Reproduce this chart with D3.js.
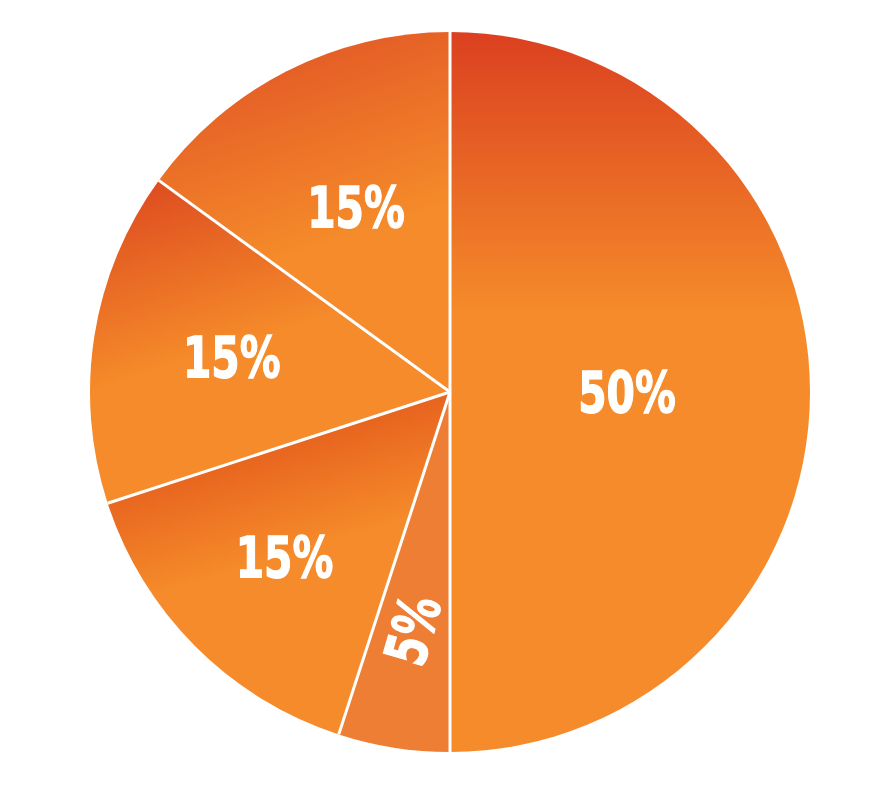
<!DOCTYPE html>
<html>
<head>
<meta charset="utf-8">
<script src="https://cdn.jsdelivr.net/npm/d3@7"></script>
<style>
  html, body { margin: 0; padding: 0; background: #fff; }
  .pie-label { font-family: "Liberation Sans Narrow", "DejaVu Sans Condensed", sans-serif; font-weight: bold; }
</style>
</head>
<body>
<svg id="pieChartContainer"></svg>
<script>
// Slice labels and values, clockwise from 12 o'clock
var sliceLabels = ["50%", "5%", "15%", "15%", "15%"];
var sliceValues = [50, 5, 15, 15, 15];

// Size & radius of the pie
var pieWidth = 891,
  pieHeight = 792,
  pieRadius = 360,
  centerX = 450,
  centerY = 392;

// Fill style per slice: gradient stops and gradient line (relative to centre)
var sliceFills = [
  { from: "#db4020", to: "#f58b2a", x1: 0, y1: -360, x2: 0, y2: -80 },
  { from: "#ed7e33", to: "#ed7e33", x1: 0, y1: 0, x2: 0, y2: 1 },
  { from: "#e8651f", to: "#f58b2a", x1: -200, y1: 65, x2: -170, y2: 165 },
  { from: "#de4d20", to: "#f58b2a", x1: -290, y1: -212, x2: -235, y2: -40 },
  { from: "#e45c26", to: "#f58b2a", x1: -100, y1: -360, x2: -40, y2: -175 }
];

// Label distance from centre, and rotation of each label
var labelRadius = [177, 241, 234, 221, 207];
var labelRotate = [0, -74, 0, 0, 0];

var pie = d3
  .pie()
  .value(function (d) {
    return d;
  })
  .sort(null);

var arc = d3.arc().innerRadius(0).outerRadius(pieRadius);

var svg = d3
  .select("#pieChartContainer")
  .attr("width", pieWidth)
  .attr("height", pieHeight);

// Gradients
var defs = svg.append("defs");
sliceFills.forEach(function (f, i) {
  var g = defs
    .append("linearGradient")
    .attr("id", "grad" + i)
    .attr("gradientUnits", "userSpaceOnUse")
    .attr("x1", f.x1)
    .attr("y1", f.y1)
    .attr("x2", f.x2)
    .attr("y2", f.y2);
  g.append("stop").attr("offset", "0%").attr("stop-color", f.from);
  g.append("stop").attr("offset", "100%").attr("stop-color", f.to);
});

var chart = svg
  .append("g")
  .attr("transform", "translate(" + centerX + "," + centerY + ")");

var slices = chart
  .selectAll(".arc")
  .data(pie(sliceValues))
  .enter()
  .append("g")
  .attr("class", "arc");

slices
  .append("path")
  .attr("d", arc)
  .attr("fill", function (d, i) {
    return "url(#grad" + i + ")";
  });

// White separators from the centre to each slice boundary
chart
  .selectAll(".sep")
  .data(pie(sliceValues))
  .enter()
  .append("line")
  .attr("class", "sep")
  .attr("x1", 0)
  .attr("y1", 0)
  .attr("x2", function (d) {
    return Math.sin(d.startAngle) * pieRadius;
  })
  .attr("y2", function (d) {
    return -Math.cos(d.startAngle) * pieRadius;
  })
  .attr("stroke", "#fff")
  .attr("stroke-width", 3);

// Labels (narrow, tall, heavy look)
slices
  .append("text")
  .attr("class", "pie-label")
  .attr("transform", function (d, i) {
    var a = (d.startAngle + d.endAngle) / 2;
    var x = Math.sin(a) * labelRadius[i],
      y = -Math.cos(a) * labelRadius[i];
    return "translate(" + x + "," + y + ") rotate(" + labelRotate[i] + ") scale(0.84,1.07)";
  })
  .attr("dy", ".36em")
  .style("text-anchor", "middle")
  .style("font-size", "54px")
  .attr("fill", "#fff")
  .attr("stroke", "#fff")
  .attr("stroke-width", 1.2)
  .text(function (d, i) {
    return sliceLabels[i];
  });
</script>
</body>
</html>
